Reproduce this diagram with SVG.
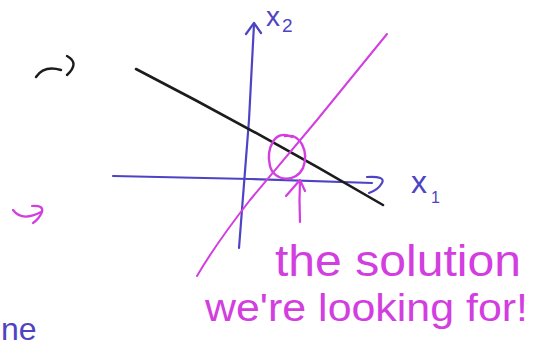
<svg xmlns="http://www.w3.org/2000/svg" width="542" height="356" viewBox="0 0 542 356">
<style>
.ink{fill:none;stroke-linecap:round;stroke-linejoin:round}
.blue{stroke:#4d43c4}
.mag{stroke:#d23ee0}
.blk{stroke:#1c1c1c}
.tb{fill:#4d43c4;font-family:"Liberation Sans",Arial,sans-serif}
.tm{fill:#d23ee0;font-family:"Liberation Sans",Arial,sans-serif}
</style>
<rect width="542" height="356" fill="#ffffff"/>
<g id="connectors">
  <path class="ink blue" stroke-width="2.2" d="M113,176 L250,179 L372,183"/>
  <path class="ink blue" stroke-width="2.2" d="M367,177 Q386,176 382,183 Q378,190 369,193"/>
  <path class="ink blue" stroke-width="2.2" d="M239,248 L249,120 L254,24"/>
  <path class="ink blue" stroke-width="2.2" d="M246,34 L254,23 L261,33"/>
  <path class="ink blk" stroke-width="2.6" d="M136,69 Q260,133 383,205"/>
  <path class="ink mag" stroke-width="2" d="M387,34 L317,120 L250,200 Q215,245 197,276"/>
  <path class="ink mag" stroke-width="2.2" d="M300,222 Q299,200 300,180 M286,196 L300,180 L305,191"/>
</g>
<g id="circle">
  <path class="ink mag" stroke-width="2.4" d="M292,137 C274,128 266,150 270,166 C274,182 296,183 303,168 C309,152 301,133 285,136"/>
</g>
<g id="x2-label">
  <text class="tb" x="266" y="26" font-size="28">x</text>
  <text class="tb" x="282" y="32" font-size="19">2</text>
</g>
<g id="x1-label">
  <text class="tb" x="411" y="193" font-size="32">x</text>
  <text class="tb" x="431" y="203" font-size="16">1</text>
</g>
<g id="annotation">
  <text class="tm" x="275" y="276" font-size="44" textLength="246" lengthAdjust="spacingAndGlyphs">the solution</text>
  <text class="tm" x="205" y="321" font-size="38" textLength="323" lengthAdjust="spacingAndGlyphs">we're looking for!</text>
</g>
<g id="fragments">
  <path class="ink blk" stroke-width="2.4" d="M36,77 Q44,65 61,70 M67,56 Q80,63 67,75"/>
  <path class="ink mag" stroke-width="2.2" d="M13,210 Q22,222 41,212 M32,206 Q44,205 42,212 Q39,219 33,223"/>
  <text class="tb" x="1" y="340" font-size="32">ne</text>
</g>
</svg>
